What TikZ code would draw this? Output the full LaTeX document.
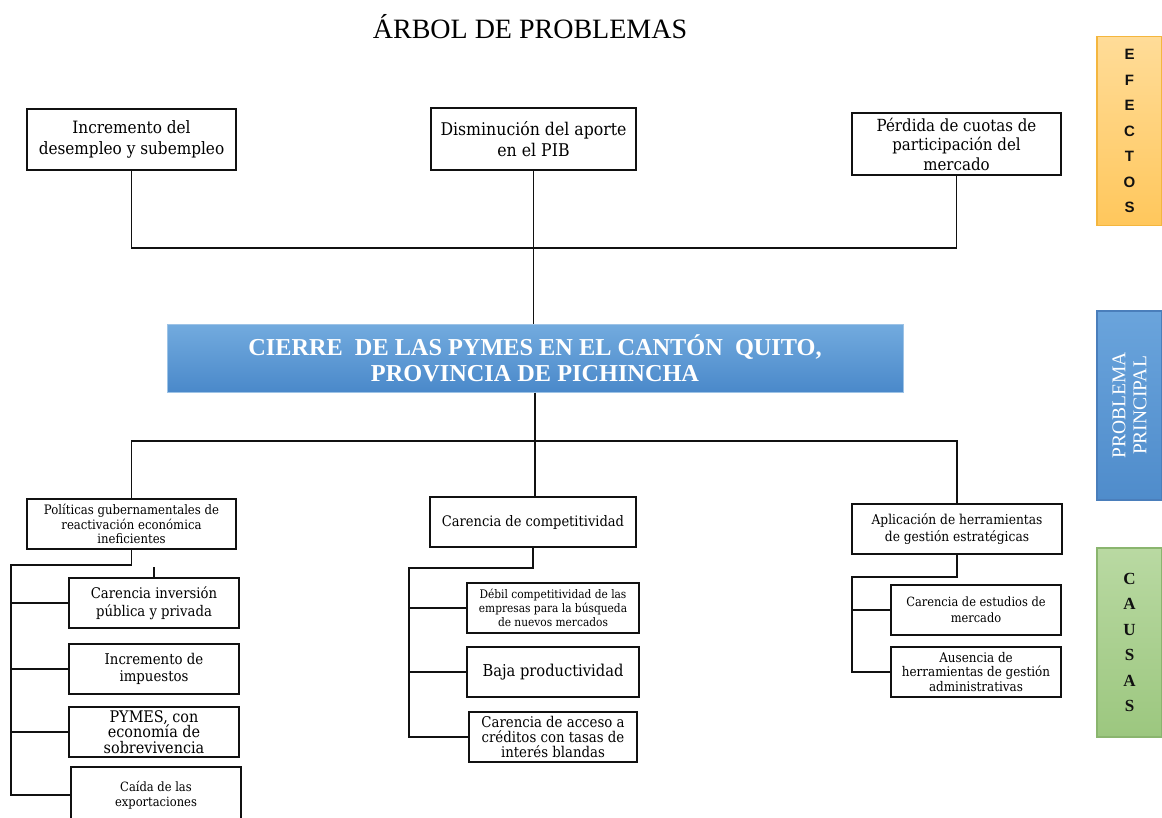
\documentclass[tikz,border=0pt]{standalone}
\usepackage{fontspec}
\setmainfont{Liberation Serif}
\newfontfamily\arialfont{Liberation Sans}
\newfontfamily\cambfont{DejaVu Serif Condensed}
\definecolor{mainblueT}{HTML}{72AADE}
\definecolor{mainblueB}{HTML}{4A89CA}
\definecolor{mainedge}{HTML}{9DC3E6}
\definecolor{orT}{HTML}{FFDC98}
\definecolor{orB}{HTML}{FFC75C}
\definecolor{oredge}{HTML}{F4B63E}
\definecolor{grT}{HTML}{B9D9A2}
\definecolor{grB}{HTML}{9CC77F}
\definecolor{gredge}{HTML}{8AB56E}
\definecolor{pbT}{HTML}{6AA4DC}
\definecolor{pbB}{HTML}{4F8CCB}
\definecolor{pbedge}{HTML}{4A7EBB}
\definecolor{inkc}{HTML}{111111}
\begin{document}
\begin{tikzpicture}[x=1pt,y=-1pt,
  box/.style={draw=inkc,line width=1.4pt,fill=white,inner sep=1pt,align=center,text=black},
  fs/.style n args={2}{font={\cambfont\fontsize{#1}{#2}\selectfont}},
  wire/.style={draw=inkc,line width=1.3pt},
  side/.style={line width=1.2pt,minimum width=65,minimum height=189,inner sep=0pt,align=center}]
\useasboundingbox (0,0) rectangle (1162,818);
\fill[white] (0,0) rectangle (1162,818);

% title
\node[font={\fontsize{28}{30}\selectfont}] (title) at (530,27) {ÁRBOL DE PROBLEMAS};

% effects
\node[box,fs={17}{21.5},minimum width=209,minimum height=61] (e1) at (131.5,139.5)
  {Incremento del\\desempleo y subempleo};
\node[box,fs={17.5}{21.5},minimum width=205,minimum height=62] (e2) at (533.5,139)
  {Disminución del aporte\\en el PIB};
\node[box,fs={16.7}{19.5},minimum width=209,minimum height=62] (e3) at (956.5,144)
  {Pérdida de cuotas de\\participación del\\mercado};

% main problem
\node[draw=mainedge,line width=1pt,top color=mainblueT,bottom color=mainblueB,
  minimum width=736,minimum height=67,align=center,text=white,inner sep=0pt,
  font={\fontsize{24.3}{26.5}\selectfont\bfseries}] (main) at (535,358.5)
  {CIERRE~ DE LAS PYMES EN EL CANTÓN~ QUITO,\\PROVINCIA DE PICHINCHA};

% causes level 1
\node[box,fs={13}{14.5},minimum width=209,minimum height=50] (c1) at (131.5,524)
  {Políticas gubernamentales de\\reactivación económica\\ineficientes};
\node[box,fs={14.5}{18},minimum width=206,minimum height=50] (c2) at (533,522)
  {Carencia de competitividad};
\node[box,fs={13.6}{17.5},minimum width=210,minimum height=50] (c3) at (957,529)
  {Aplicación de herramientas\\de gestión estratégicas};

% sub-causes left
\node[box,fs={14.7}{18},minimum width=170,minimum height=50] (s11) at (154,603)
  {Carencia inversión\\pública y privada};
\node[box,fs={14.8}{17},minimum width=170,minimum height=50] (s12) at (154,669)
  {Incremento de\\impuestos};
\node[box,fs={16}{15.5},minimum width=170,minimum height=50] (s13) at (154,732)
  {PYMES, con\\economía de\\sobrevivencia};
\node[box,fs={12.8}{15.5},minimum width=170,minimum height=56] (s14) at (156,795)
  {Caída de las\\exportaciones};

% sub-causes middle
\node[box,fs={11.8}{14},minimum width=172,minimum height=50] (s21) at (553,608)
  {Débil competitividad de las\\empresas para la búsqueda\\de nuevos mercados};
\node[box,fs={16.3}{18},minimum width=172,minimum height=50] (s22) at (553,672)
  {Baja productividad};
\node[box,fs={14.8}{15},minimum width=168,minimum height=50] (s23) at (553,737)
  {Carencia de acceso a\\créditos con tasas de\\interés blandas};

% sub-causes right
\node[box,fs={12.7}{15.5},minimum width=170,minimum height=50] (s31) at (976,610)
  {Carencia de estudios de\\mercado};
\node[box,fs={13.3}{14.5},minimum width=170,minimum height=50] (s32) at (976,672)
  {Ausencia de\\herramientas de gestión\\administrativas};

% side labels
\node[side,draw=oredge,top color=orT,bottom color=orB,
  font={\arialfont\bfseries\fontsize{15}{25.5}\selectfont},text=inkc] (efe) at (1129.5,131)
  {E\\F\\E\\C\\T\\O\\S};
\node[side,draw=pbedge,top color=pbT,bottom color=pbB] (pp) at (1129.5,405.5) {};
\node[rotate=90,text=white,align=center,inner sep=0pt,
  font={\fontsize{19.5}{21}\selectfont}] (pptext) at (pp.center)
  {PROBLEMA\\PRINCIPAL};
\node[side,draw=gredge,top color=grT,bottom color=grB,
  font={\bfseries\fontsize{17}{25.5}\selectfont},text=inkc] (cau) at (1129.5,642.5)
  {C\\A\\U\\S\\A\\S};

% coordinates for connectors
\coordinate (topbar) at (535,248);
\coordinate (botbar) at (535,441);
\coordinate (lrail) at (11,565);
\coordinate (mrail) at (409,568);
\coordinate (rrail) at (852,577);

% effects connectors
\draw[wire] (e1.south) |- (topbar) -| (e3.south);
\draw[wire] (e2.south) -- (e2.south |- main.north);
% main to causes
\draw[wire] (main.south) -- (botbar);
\draw[wire] (c1.north) |- (botbar) -| (c3.north);
\draw[wire] (botbar) -- (botbar |- c2.north);

% left branch
\draw[wire] (c1.south) |- (lrail) -- (lrail |- s14.west) -- (s14.west);
\draw[wire] (lrail |- s11.west) -- (s11.west);
\draw[wire] (lrail |- s12.west) -- (s12.west);
\draw[wire] (lrail |- s13.west) -- (s13.west);
\draw[wire] (s11.north) -- ++(0,-10);

% middle branch
\draw[wire] (c2.south) |- (mrail) -- (mrail |- s23.west) -- (s23.west);
\draw[wire] (mrail |- s21.west) -- (s21.west);
\draw[wire] (mrail |- s22.west) -- (s22.west);

% right branch
\draw[wire] (c3.south) |- (rrail) -- (rrail |- s32.west) -- (s32.west);
\draw[wire] (rrail |- s31.west) -- (s31.west);
\end{tikzpicture}
\end{document}
